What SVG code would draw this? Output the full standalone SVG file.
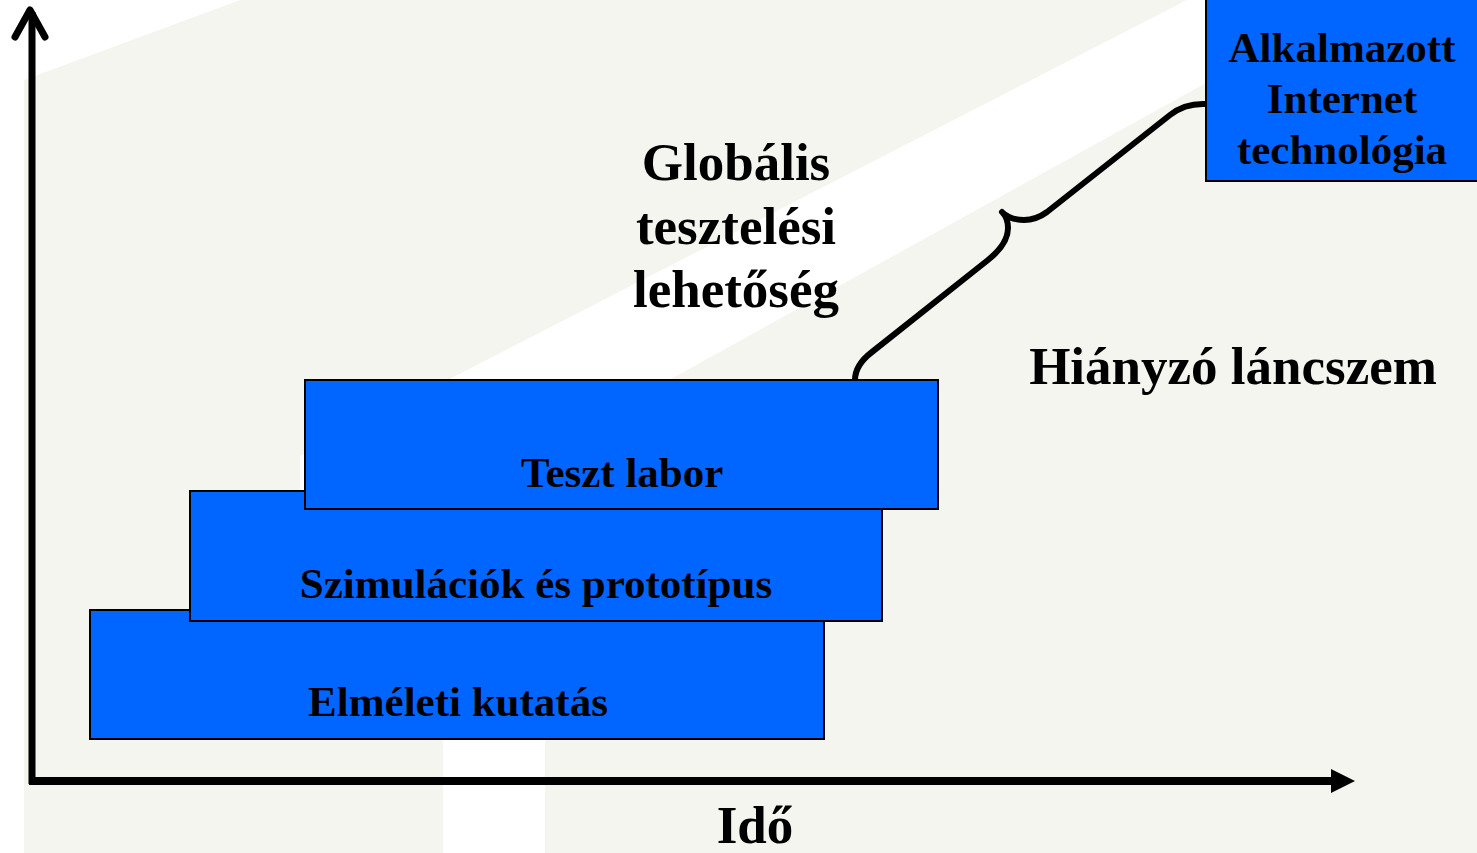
<svg xmlns="http://www.w3.org/2000/svg" width="1477" height="853" viewBox="0 0 1477 853">
<style>
.bg{fill:#F5F5F0}
.wh{fill:#FFFFFF}
.box{fill:#0066FF;stroke:#000;stroke-width:2}
.t{font-family:"Liberation Serif","Times New Roman",serif;font-weight:bold;fill:#000;text-anchor:middle}
.axis{stroke:#000;fill:none}
</style>
<g id="background">
<rect class="bg" x="0" y="0" width="1477" height="853"/>
<polygon class="wh" points="0,0 240,0 24,80 24,853 0,853"/>
<polygon class="wh" points="1187,0 1356,0 300,584 300,456"/>
<rect class="wh" x="443" y="700" width="102" height="153"/>
</g>
<g id="axes">
<line class="axis" x1="32" y1="784" x2="32" y2="12" stroke-width="7"/>
<polyline class="axis" points="15,37 30,10 45,37" stroke-width="7" stroke-linecap="round" stroke-linejoin="round"/>
<line class="axis" x1="29" y1="781" x2="1334" y2="781" stroke-width="8"/>
<polygon points="1331,769 1355,781 1331,793" fill="#000"/>
</g>
<g id="connectors">
<path d="M 855 380 Q 855 365 872 352 L 988 260 Q 1008 244 1008 228 Q 1008 218 1002 212 Q 1010 220 1024 220 Q 1036 220 1047 212 L 1170 115 Q 1185 103 1206 104" fill="none" stroke="#000" stroke-width="6" stroke-linecap="round" stroke-linejoin="round"/>
</g>
<g id="node-elmeleti">
<rect class="box" x="90" y="610" width="734" height="129"/>
<text class="t" x="458" y="716" font-size="43">Elméleti kutatás</text>
</g>
<g id="node-szimulaciok">
<rect class="box" x="190" y="491" width="692" height="130"/>
<text class="t" x="536" y="598" font-size="43">Szimulációk és prototípus</text>
</g>
<g id="node-teszt">
<rect class="box" x="305" y="380" width="633" height="129"/>
<text class="t" x="622" y="487" font-size="43">Teszt labor</text>
</g>
<g id="node-alkalmazott">
<rect class="box" x="1206" y="-5" width="275" height="186"/>
<text class="t" font-size="43"><tspan x="1342" y="62">Alkalmazott</tspan><tspan x="1342" y="113">Internet</tspan><tspan x="1342" y="164">technológia</tspan></text>
</g>
<g id="label-globalis">
<text class="t" font-size="53"><tspan x="736" y="180">Globális</tspan><tspan x="736" y="244">tesztelési</tspan><tspan x="736" y="307">lehetőség</tspan></text>
</g>
<g id="label-hianyzo">
<text class="t" x="1233" y="384" font-size="53">Hiányzó láncszem</text>
</g>
<g id="label-ido">
<text class="t" x="755" y="843" font-size="53">Idő</text>
</g>
</svg>
